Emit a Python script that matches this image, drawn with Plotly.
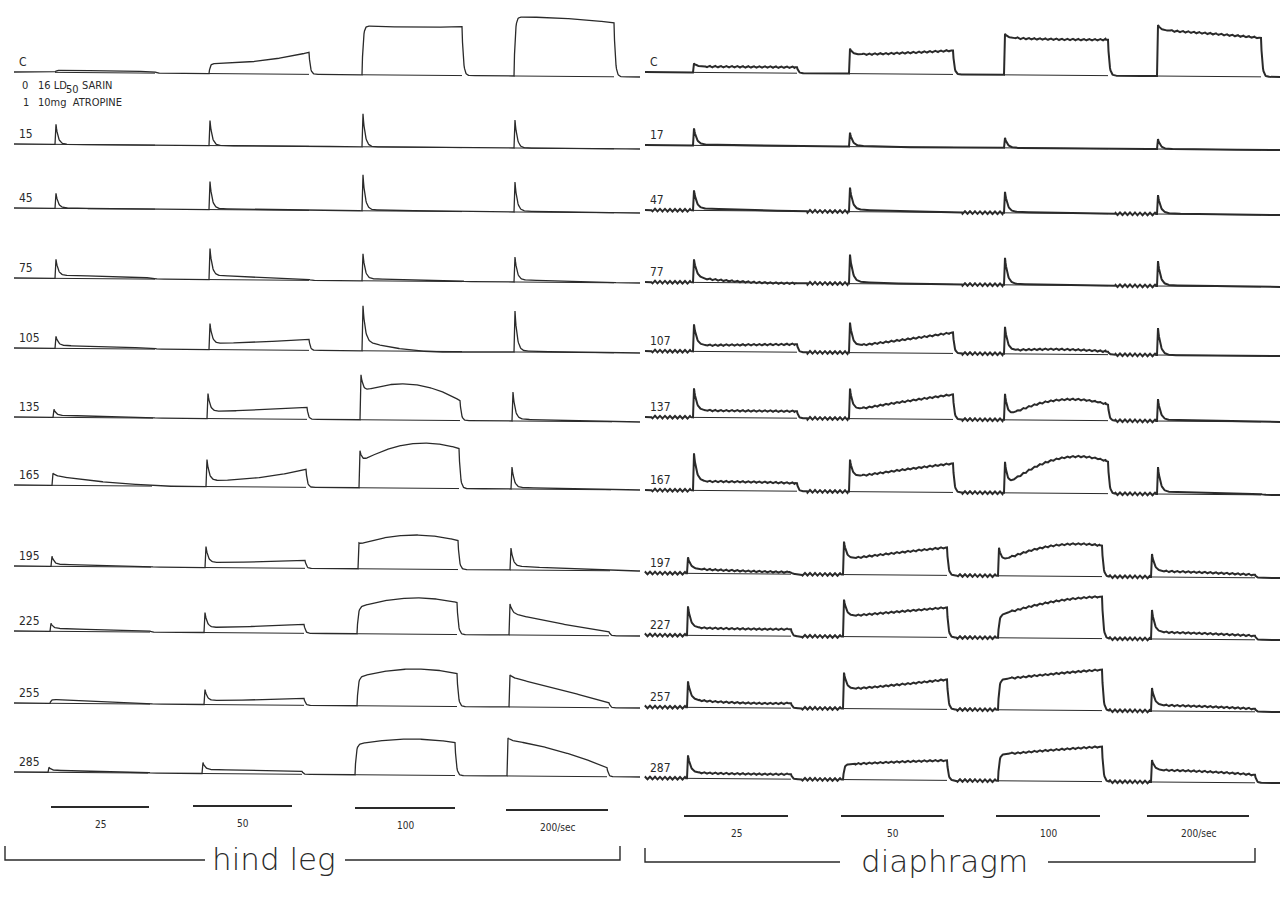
import numpy as np
import plotly.graph_objects as go

# ---------------------------------------------------------------------------
# Tension records: each train is (peak, level just after onset, level at
# mid-train, level at end of train), in chart deflection units.
# ---------------------------------------------------------------------------
HL_ROWS = ["C", "15", "45", "75", "105", "135", "165", "195", "225", "255", "285"]
HL_25 = [(2, 2, 2, 1.5), (20, 0, 0, 0), (15, 0.5, 0, 0), (19, 3, 2.5, 1),
         (12, 3, 2, 1), (8, 2, 1.5, 1), (12, 10, 4, 1), (10, 2, 1.5, 1),
         (8, 3, 2, 1), (5, 4, 2.5, 1), (5, 2, 1.5, 1)]
HL_50 = [(10, 10, 13, 22), (25, 0, 0, 0), (28, 1, 0.5, 0), (31, 4, 3, 1),
         (26, 6, 8, 11), (25, 7, 9, 12), (27, 6, 9, 18), (21, 5, 6, 8),
         (20, 5, 6.5, 9), (15, 4, 5, 7), (11, 4, 3.5, 3)]
HL_100 = [(49, 49, 48, 49), (33, 0, 0, 0), (36, 1, 0.5, 0), (27, 2, 1.5, 1),
          (45, 10, 1, 0), (45, 27, 36, 20), (37, 25, 44, 40), (26, 24, 34, 29),
          (26, 26, 36, 32), (28, 28, 37, 33), (30, 30, 36, 33)]
HL_200 = [(59, 59, 58, 54), (28, 0, 0, 0), (30, 1, 0.5, 0), (25, 2, 1.5, 0.5),
          (41, 1, 0.5, 0), (29, 2, 1, 0.5), (22, 1.5, 1, 0.5), (22, 4, 2, 0.5),
          (31, 22, 12, 4), (32, 30, 18, 5), (38, 36, 26, 9)]

DI_ROWS = ["C", "17", "47", "77", "107", "137", "167", "197", "227", "257", "287"]
DI_25 = [(9, 6, 6, 6), (17, 1, 0.5, 0), (20, 2, 1, 0), (23, 5, 1, 0),
         (27, 6, 7, 8), (29, 7, 7, 7), (37, 9, 9, 8), (16, 5, 3, 2),
         (29, 8, 7, 7), (26, 8, 5, 5), (23, 6, 5, 5)]
DI_50 = [(25, 19, 21, 24), (14, 1, 0, 0), (24, 2, 1, 0), (29, 2, 0.5, 0),
         (30, 6, 13, 21), (30, 8, 17, 25), (32, 14, 22, 29), (33, 15, 22, 28),
         (37, 20, 25, 30), (36, 19, 24, 30), (15, 15, 18, 20)]
DI_100 = [(41, 37, 36, 36), (10, 0, 0, 0), (21, 1, 0.5, 0), (27, 1, 0.5, 0),
          (27, 3, 5, 3), (26, 2, 20, 16), (31, 5, 34, 32), (28, 13, 30, 31),
          (22, 22, 36, 42), (30, 30, 36, 41), (26, 26, 31, 35)]
DI_200 = [(51, 46, 43, 39), (10, 0, 0, 0), (19, 1, 0, 0), (25, 1, 0.5, 0),
          (27, 0, 0, 0), (22, 1, 1, 0), (27, 2, 2, 1), (23, 6, 5, 3),
          (29, 7, 6, 4), (23, 6, 5, 3), (22, 12, 11, 8)]

RATES = ["25", "50", "100", "200/sec"]

# ---------------------------------------------------------------------------
# Page layout (plot units == screen pixels)
# ---------------------------------------------------------------------------
W, H = 1280, 912
INK = "#2a2a2a"
NARROW = "Liberation Sans Narrow, DejaVu Sans Condensed, Liberation Sans"

PANELS = [
    dict(rows=HL_ROWS, trains=[HL_25, HL_50, HL_100, HL_200],
         base_y=[72, 144, 208, 278, 348, 417, 485, 566, 631, 703, 772],
         onset=[55, 209, 362, 514], dur=100,
         shift=[0, 0, 0, 0, 0, -2, -3, -4, -5, -5, -7],
         x0=14, x1=640, drift=5, tau=2.2, width=1.3, ripple=False,
         label_x=17, bars=[(51, 149, 807), (193, 292, 806), (355, 455, 808), (506, 608, 810)],
         bracket=(5, 620, 860, 846, 205, 345), title="hind leg", title_x=274),
    dict(rows=DI_ROWS, trains=[DI_25, DI_50, DI_100, DI_200],
         base_y=[72, 145, 210, 282, 351, 417, 490, 573, 635, 707, 778],
         onset=[693, 849, 1004, 1157], dur=104,
         shift=[0, 0, 0, 0, 0, 0, 0, -6, -6, -6, -6],
         x0=645, x1=1280, drift=5, tau=2.6, width=2.0, ripple=True,
         label_x=648, bars=[(684, 788, 816), (841, 944, 816), (996, 1100, 816), (1147, 1249, 816)],
         bracket=(645, 1255, 862, 848, 840, 1048), title="diaphragm", title_x=944),
]


def plateau(t, s, m, e, dur):
    """Quadratic through (0, s), (dur/2, m), (dur, e)."""
    u = t / dur
    return (2 * (u - 0.5) * (u - 1) * s
            - 4 * u * (u - 1) * m
            + 2 * u * (u - 0.5) * e)


def train_level(t, rec, dur, tau):
    p, s, m, e = rec
    lvl = np.zeros_like(t)
    inside = (t >= 0) & (t <= dur)
    ti = t[inside]
    pl = plateau(ti, s, m, e, dur)
    if p > s + 1.5:
        rise = ti < 1.0
        val = np.where(rise, p * ti,
                       pl + (p - pl) * np.exp(-(np.maximum(ti, 1.0) - 1.0) / tau))
    else:
        val = pl * (1 - np.exp(-ti / 1.1))
    lvl[inside] = val
    after = (t > dur) & (t < dur + 12)
    lvl[after] = e * np.exp(-(t[after] - dur) / 1.3)
    return lvl


def tri(x, period, amp):
    ph = (x / period) % 1.0
    return amp * (4 * np.abs(ph - 0.5) - 1)


fig = go.Figure()
annotations = []

for pan in PANELS:
    xs = np.arange(pan["x0"], pan["x1"] + 0.25, 0.5)
    ref_x, ref_y = [], []
    for r, name in enumerate(pan["rows"]):
        by = pan["base_y"][r]
        slope = pan["drift"] / (pan["x1"] - pan["x0"])
        level = np.zeros_like(xs)
        texture = np.zeros_like(xs)
        for k, train in enumerate(pan["trains"]):
            on = pan["onset"][k] + pan["shift"][r]
            rec = train[r]
            level += train_level(xs - on, rec, pan["dur"], pan["tau"])
            if pan["ripple"]:
                # respiratory-pump ripple before each train and along the tetanus
                pre = (xs > on - 42) & (xs < on - 1)
                if r >= 2:
                    texture[pre] += tri(xs[pre], 5.0, 1.3)
                body = (xs > on + 12) & (xs < on + pan["dur"] - 2)
                if max(rec[1:]) > 4:
                    texture[body] += tri(xs[body], 5.5, 0.9)
            # zero line drawn by the second pen under each train
            ref_x += [on, on + pan["dur"], None]
            ref_y += [by + slope * (on - pan["x0"]),
                      by + slope * (on + pan["dur"] - pan["x0"]), None]
        ys = by + slope * (xs - pan["x0"]) - level - texture
        fig.add_trace(go.Scatter(x=xs, y=ys, mode="lines",
                                 line=dict(color=INK, width=pan["width"]),
                                 hoverinfo="skip", showlegend=False))
        annotations.append(dict(x=pan["label_x"], y=by - 1, text=name,
                                xanchor="left", yanchor="bottom", showarrow=False,
                                font=dict(family=NARROW, size=12, color=INK)))
    fig.add_trace(go.Scatter(x=ref_x, y=ref_y, mode="lines",
                             line=dict(color=INK, width=1.0),
                             hoverinfo="skip", showlegend=False))

    # stimulus-rate bars
    for (bx0, bx1, byy), lab in zip(pan["bars"], RATES):
        fig.add_trace(go.Scatter(x=[bx0, bx1], y=[byy, byy], mode="lines",
                                 line=dict(color=INK, width=2.2),
                                 hoverinfo="skip", showlegend=False))
        annotations.append(dict(x=(bx0 + bx1) / 2, y=byy + 17, text=lab,
                                xanchor="center", yanchor="middle", showarrow=False,
                                font=dict(family=NARROW, size=10, color=INK)))

    # bracket with muscle name
    bl, br, byb, byt, gap0, gap1 = pan["bracket"]
    fig.add_trace(go.Scatter(x=[bl, bl, gap0, None, gap1, br, br],
                             y=[byt, byb, byb, None, byb, byb, byt],
                             mode="lines", line=dict(color=INK, width=1.4),
                             hoverinfo="skip", showlegend=False))
    annotations.append(dict(x=pan["title_x"], y=byb - 1, text=pan["title"],
                            xanchor="center", yanchor="middle", showarrow=False,
                            font=dict(family="DejaVu Sans", size=31, color=INK, weight=200)))

# treatment legend
LEGEND_FONT = dict(family=NARROW, size=11, color=INK)
annotations += [
    dict(x=20, y=85, text="0", xanchor="left", yanchor="middle", showarrow=False,
         font=LEGEND_FONT),
    dict(x=36, y=85, text="16 LD", xanchor="left", yanchor="middle",
         showarrow=False, font=LEGEND_FONT),
    dict(x=64, y=89, text="50", xanchor="left", yanchor="middle",
         showarrow=False, font=LEGEND_FONT),
    dict(x=80, y=85, text="SARIN", xanchor="left", yanchor="middle",
         showarrow=False, font=LEGEND_FONT),
    dict(x=21, y=102, text="1", xanchor="left", yanchor="middle", showarrow=False,
         font=LEGEND_FONT),
    dict(x=36, y=102, text="10mg  ATROPINE", xanchor="left", yanchor="middle",
         showarrow=False, font=LEGEND_FONT),
]

fig.update_layout(
    width=W, height=H,
    margin=dict(l=0, r=0, t=0, b=0),
    paper_bgcolor="white", plot_bgcolor="white",
    xaxis=dict(range=[0, W], visible=False, fixedrange=True),
    yaxis=dict(range=[H, 0], visible=False, fixedrange=True),
    annotations=annotations,
    showlegend=False,
)

fig.write_html("out.html")
